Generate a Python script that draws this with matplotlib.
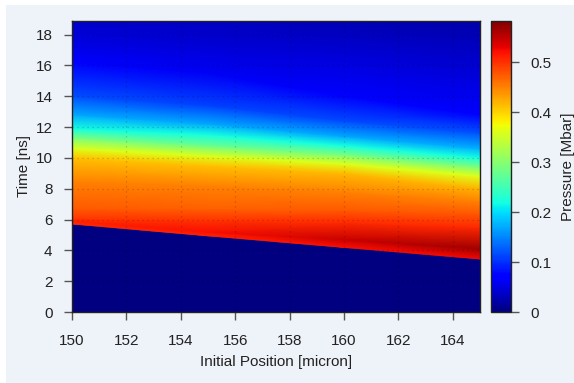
import numpy as np
import matplotlib
matplotlib.use("Agg")
import matplotlib.pyplot as plt
from matplotlib.patches import Rectangle

plt.rcParams['font.family'] = ['Liberation Sans', 'DejaVu Sans']
plt.rcParams['font.size'] = 11

# initial positions of the sampled columns (micron)
positions = [150.0, 155.0, 160.0, 165.0]

# time the shock front reaches each column (ns)
shock_time = [5.72, 4.95, 4.20, 3.45]

# time nodes above the shock front, one list per column (ns)
time_150 = [5.72, 5.9, 6.1, 6.7, 8.5, 10.0, 10.6, 11.3, 11.9, 12.8, 14.0, 16.2, 17.6, 19.0]
time_155 = [4.95, 5.2, 5.9, 6.7, 8.2, 9.5, 10.1, 10.8, 11.5, 12.2, 13.4, 15.5, 17.3, 19.0]
time_160 = [4.20, 4.7, 5.8, 6.6, 7.8, 9.0, 9.6, 10.2, 10.8, 11.4, 12.4, 14.0, 16.2, 19.0]
time_165 = [3.45, 4.1, 5.5, 6.4, 7.2, 8.0, 8.8, 9.4, 10.0, 10.6, 11.6, 12.8, 15.0, 19.0]

# pressure at those nodes (Mbar)
pres_150 = [0.505, 0.510, 0.495, 0.475, 0.450, 0.410, 0.360, 0.290, 0.220, 0.170, 0.117, 0.065, 0.050, 0.037]
pres_155 = [0.510, 0.520, 0.500, 0.470, 0.450, 0.410, 0.360, 0.280, 0.220, 0.170, 0.110, 0.060, 0.045, 0.032]
pres_160 = [0.520, 0.545, 0.505, 0.475, 0.450, 0.415, 0.360, 0.290, 0.220, 0.170, 0.115, 0.065, 0.048, 0.027]
pres_165 = [0.525, 0.565, 0.505, 0.475, 0.450, 0.420, 0.360, 0.290, 0.220, 0.175, 0.120, 0.070, 0.050, 0.022]

# build a curvilinear mesh: unshocked material (zero pressure) below the front
times = [time_150, time_155, time_160, time_165]
pres = [pres_150, pres_155, pres_160, pres_165]
Y = np.array([[0.0, ts - 0.03] + t for ts, t in zip(shock_time, times)]).T
C = np.array([[0.0, 0.0] + p for p in pres]).T
X = np.tile(positions, (Y.shape[0], 1))

bg = '#eef2f9'
fig = plt.figure(figsize=(5.74, 3.83), dpi=100, facecolor='white')
fig.patches.append(Rectangle((6 / 574, 0), 1 - 6 / 574, 1 - 5 / 383,
                             transform=fig.transFigure, facecolor=bg,
                             edgecolor='none', zorder=-10))

ax = fig.add_axes([72 / 574, 1 - 312 / 383, 408 / 574, 291.3 / 383])
mesh = ax.pcolormesh(X, Y, C, shading='gouraud', cmap='jet', vmin=0, vmax=0.583)

ax.set_xlim(150, 165)
ax.set_ylim(0, 18.9)
ax.set_xticks(np.arange(150, 165, 2))
ax.set_yticks(np.arange(0, 19, 2))
ax.grid(True, linestyle=(0, (1, 3)), color='k', alpha=0.2, linewidth=0.9)
ax.tick_params(direction='out', length=6, width=1, color='#555555',
               labelcolor='#222222', labelsize=11)
ax.tick_params(axis='y', pad=8)
ax.tick_params(axis='x', pad=10)
for s in ax.spines.values():
    s.set_linewidth(1)
    s.set_color('#222222')

ax.set_xlabel('Initial Position [micron]', color='#222222', labelpad=5)
ax.set_ylabel('Time [ns]', color='#222222', labelpad=3)

# colorbar
cax = fig.add_axes([491 / 574, 1 - 312 / 383, 20 / 574, 291.3 / 383])
cb = fig.colorbar(mesh, cax=cax)
cb.set_ticks([0, 0.1, 0.2, 0.3, 0.4, 0.5])
cb.set_ticklabels(['0', '0.1', '0.2', '0.3', '0.4', '0.5'])
cb.outline.set_linewidth(1)
cb.outline.set_edgecolor('#222222')
cax.tick_params(direction='out', length=6, width=1, color='#555555',
                labelcolor='#222222', labelsize=11, pad=8)
cb.set_label('Pressure [Mbar]', color='#222222', labelpad=7)

fig.savefig('out.png', dpi=100, facecolor=fig.get_facecolor())
